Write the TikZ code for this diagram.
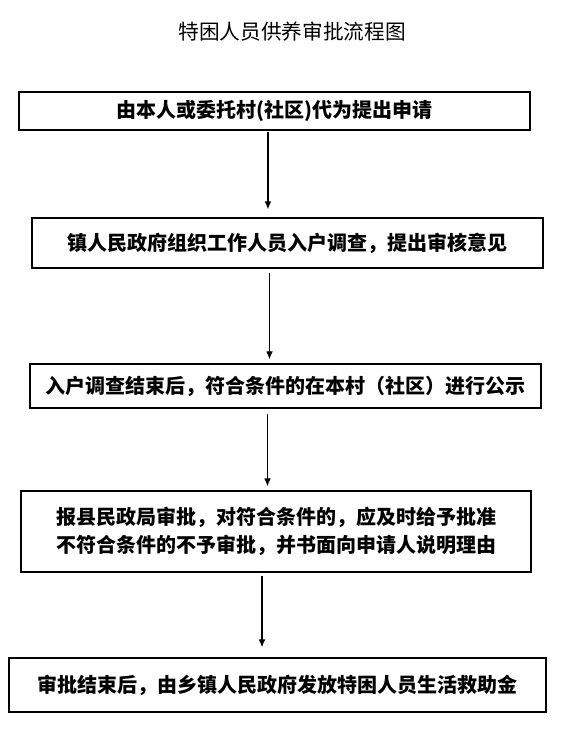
\documentclass[tikz,border=0pt]{standalone}
\usepackage{fontspec}
\setmainfont{Noto Sans CJK SC}
\usepackage{tikz}
\usetikzlibrary{arrows.meta,positioning,calc}

\begin{document}
\begin{tikzpicture}[
    x=0.75pt,
    y=-0.75pt,
    every node/.style={font=\fontsize{15pt}{20.5pt}\selectfont},
    stepbox/.style={
        draw=black,
        line width=1pt,
        align=center,
        inner sep=0pt,
        font=\fontsize{15pt}{20.5pt}\selectfont\bfseries
    },
    flow/.style={
        -{Latex[length=6pt,width=5pt]},
        line width=0.8pt
    }
]

\useasboundingbox (0,0) rectangle (575,755);

% ==========================================================
% TITLE
% ==========================================================

\node (title) at (292,32)
{\fontsize{15.5pt}{18pt}\selectfont 特困人员供养审批流程图};

% ==========================================================
% STEPS
% ==========================================================

\node[
    stepbox,
    minimum width=511*0.75pt,
    minimum height=38*0.75pt
] (apply) at (274.5,111)
{由本人或委托村(社区)代为提出申请};

\node[
    stepbox,
    minimum width=511*0.75pt,
    minimum height=50*0.75pt
] (survey) at (287.5,243)
{镇人民政府组织工作人员入户调查，提出审核意见};

\node[
    stepbox,
    minimum width=511*0.75pt,
    minimum height=44*0.75pt
] (notice) at (285.5,386)
{入户调查结束后，符合条件的在本村（社区）进行公示};

\node[
    stepbox,
    minimum width=510*0.75pt,
    minimum height=81*0.75pt
] (approve) at (276,531.5)
{报县民政局审批，对符合条件的，应及时给予批准\\
不符合条件的不予审批，并书面向申请人说明理由};

\node[
    stepbox,
    minimum width=537*0.75pt,
    minimum height=54*0.75pt
] (payout) at (277.5,685)
{审批结束后，由乡镇人民政府发放特困人员生活救助金};

% ==========================================================
% ARROWS
% ==========================================================

\draw[flow, shorten <=0.75pt, shorten >=6pt]
([xshift=-4.9pt]apply.south) -- ([xshift=-4.9pt]apply.south |- survey.north);

\draw[flow, shorten <=3pt, shorten >=3pt]
([xshift=-13.5pt]survey.south) -- ([xshift=-13.5pt]survey.south |- notice.north);

\draw[flow, shorten <=3.75pt, shorten >=3pt]
([xshift=-13.5pt]notice.south) -- ([xshift=-13.5pt]notice.south |- approve.north);

\draw[flow, shorten <=2.25pt, shorten >=7.5pt]
([xshift=-10.5pt]approve.south) -- ([xshift=-10.5pt]approve.south |- payout.north);

\end{tikzpicture}
\end{document}
